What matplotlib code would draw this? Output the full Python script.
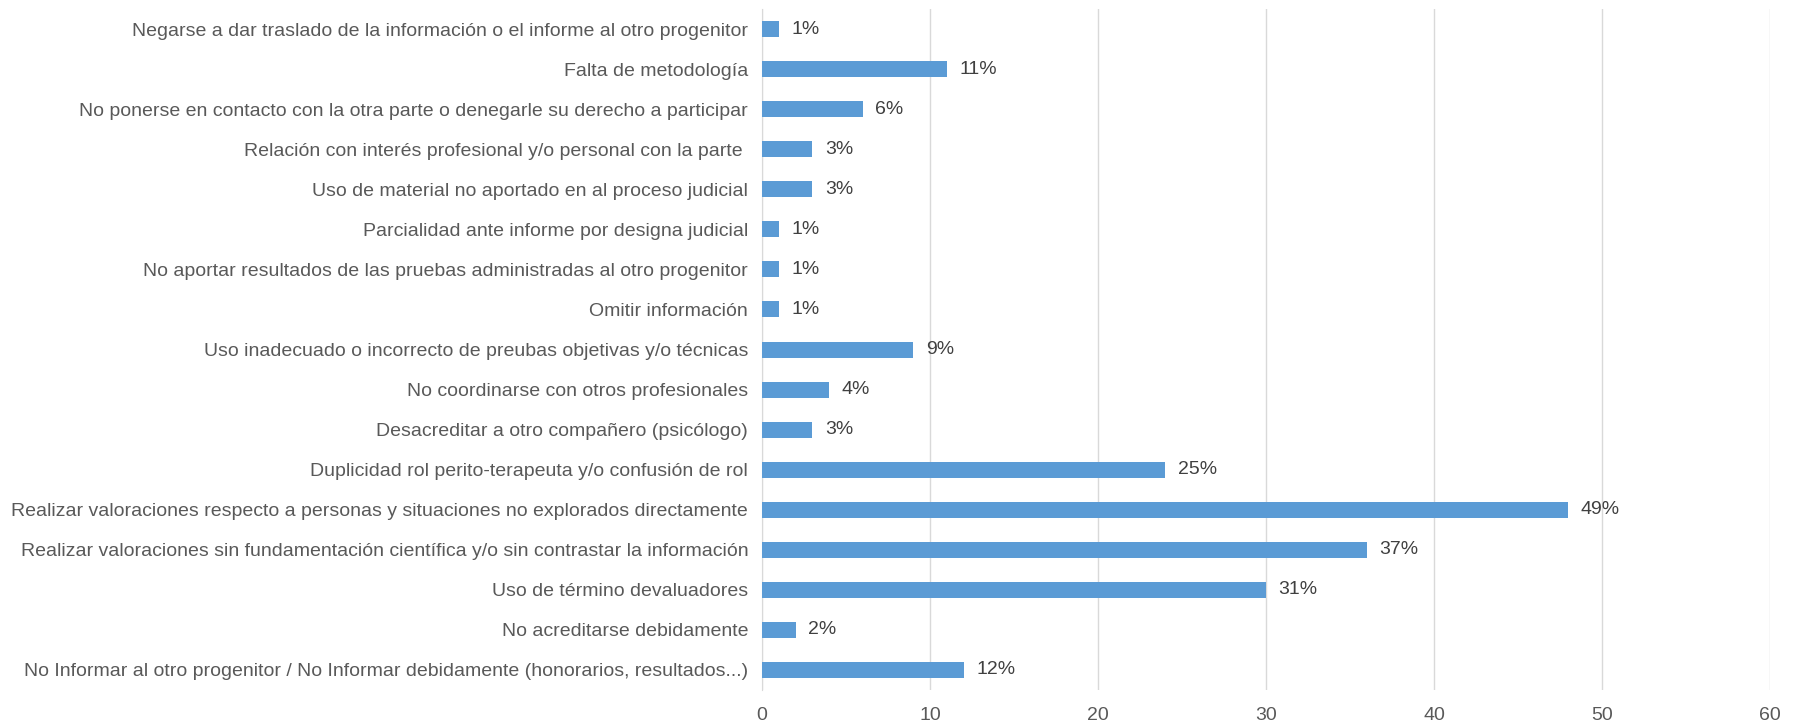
import matplotlib.pyplot as plt

# categorías de abajo hacia arriba (orden del eje)
categorias = [
    "No Informar al otro progenitor / No Informar debidamente (honorarios, resultados...)",
    "No acreditarse debidamente",
    "Uso de término devaluadores",
    "Realizar valoraciones sin fundamentación científica y/o sin contrastar la información",
    "Realizar valoraciones respecto a personas y situaciones no explorados directamente",
    "Duplicidad rol perito-terapeuta y/o confusión de rol",
    "Desacreditar a otro compañero (psicólogo)",
    "No coordinarse con otros profesionales",
    "Uso inadecuado o incorrecto de preubas objetivas y/o técnicas",
    "Omitir información",
    "No aportar resultados de las pruebas administradas al otro progenitor",
    "Parcialidad ante informe por designa judicial",
    "Uso de material no aportado en al proceso judicial",
    "Relación con interés profesional y/o personal con la parte ",
    "No ponerse en contacto con la otra parte o denegarle su derecho a participar",
    "Falta de metodología",
    "Negarse a dar traslado de la información o el informe al otro progenitor",
]
valores = [12, 2, 30, 36, 48, 24, 3, 4, 9, 1, 1, 1, 3, 3, 6, 11, 1]
etiquetas = ["12%", "2%", "31%", "37%", "49%", "25%", "3%", "4%", "9%", "1%",
             "1%", "1%", "3%", "3%", "6%", "11%", "1%"]
ticks_x = [0, 10, 20, 30, 40, 50, 60]

plt.rcParams['font.family'] = ['Liberation Sans', 'DejaVu Sans']

fig = plt.figure(figsize=(17.96, 7.28), dpi=100)
ax = fig.add_axes([0.4243, 0.0522, 0.5612, 0.9354])

pos = list(range(len(categorias)))
ax.barh(pos, valores, height=0.4, color='#5b9bd5', zorder=3)

for p, v, t in zip(pos, valores, etiquetas):
    ax.annotate(t, (v, p), xytext=(9, 0), textcoords='offset points',
                va='center', ha='left', fontsize=14, color='#404040')

ax.set_xlim(0, 60)
ax.set_ylim(-0.5, len(categorias) - 0.5)
ax.set_xticks(ticks_x)
ax.set_yticks(pos)
ax.set_yticklabels(categorias)
ax.tick_params(axis='both', length=0, labelsize=14, labelcolor='#595959')
ax.tick_params(axis='y', pad=10)
ax.tick_params(axis='x', pad=12)

ax.grid(axis='x', color='#d9d9d9', linewidth=1, zorder=0)
for s in ['top', 'right', 'bottom']:
    ax.spines[s].set_visible(False)
ax.spines['left'].set_color('#d9d9d9')

fig.savefig('out.png', dpi=100)
